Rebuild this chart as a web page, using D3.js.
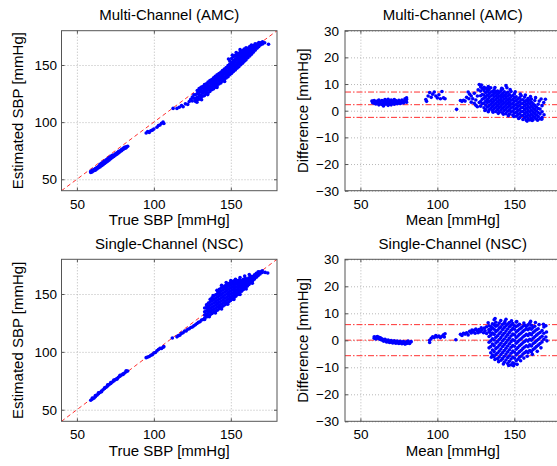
<!DOCTYPE html>
<html lang="en">
<head>
<meta charset="UTF-8">
<title>SBP estimation: AMC vs NSC</title>
<script src="https://d3js.org/d3.v7.min.js"></script>
<style>
  body { margin: 0; background: #fff; }
  text { font-family: Arial, "Liberation Sans", Helvetica, sans-serif; fill: #000; }
  .ticks line { stroke: #555; }
  .ticks .domain, .grid .domain { display: none; }
  .grid line { stroke: #b8b8b8; stroke-dasharray: 1,2; }
  .frame { fill: none; stroke: #555; }
  .dot { fill: #0000ff; }
</style>
</head>
<body>
<svg id="fig" width="557" height="466"></svg>
<script>
// ---- values ----
const xDomain = [40, 180];
const scatterDomain = [40, 180];
const diffDomain = [-30, 30];
const xTicks = [50, 100, 150];
const scatterTicks = [50, 100, 150];
const diffTicks = [-30, -20, -10, 0, 10, 20, 30];

const titles = ["Multi-Channel (AMC)", "Multi-Channel (AMC)", "Single-Channel (NSC)", "Single-Channel (NSC)"];

// Bland-Altman lines: [upper limit, mean, lower limit]
const amcLimits = [7.0, 2.25, -2.5];
const nscLimits = [5.8, 0.05, -5.7];

// columns: [true SBP, estimated SBP ...]
const amcScatter = [
  [59, 56, 57], [60, 56.5, 57.8], [61, 57.5, 58.5], [62, 58, 59.3], [63, 59, 60.2], [64, 60, 61.2],
  [65, 60.8, 62, 63], [66, 61.8, 63, 64], [67, 62.8, 64, 65], [68, 63.8, 65, 66], [69, 64.8, 66, 67],
  [70, 65.8, 67, 68], [71, 66.8, 68, 69], [72, 68, 69, 70], [73, 69, 70, 71], [74, 70, 71.2],
  [75, 71, 72.2], [76, 72, 73.2], [77, 73, 74.2], [78, 74, 75], [79, 75, 76], [80, 76, 77],
  [81, 77, 78], [82, 77.5, 78.5], [83, 78.8],
  [95, 90.5], [96, 91.8], [97, 91], [98, 92.5], [99, 93], [100, 94], [102, 95.5], [103, 97],
  [104, 97.5], [105, 99], [106, 100], [106.5, 98.8],
  [112.5, 112], [115, 112], [116.5, 113], [118, 114.5], [119, 113.5], [120.5, 116], [122, 115.5],
  [123, 118], [124, 120], [125, 118.5, 122], [126, 121, 124],
  [127, 118.2, 120.6, 123.9], [128.2, 119.5, 121.8, 125.1, 127.6], [129.4, 120.1, 122.9, 124.2, 126.8, 129.3],
  [130.6, 121.3, 123.7, 126.4, 128.2, 130.4], [131.7, 122.6, 125.4, 127.1, 129.8, 131.2],
  [132.9, 123.2, 126.1, 128.7, 130.3, 132.8], [134.1, 124.8, 127.3, 129.4, 131.9, 133.6],
  [135.2, 125.5, 128.6, 130.8, 132.7, 135.1], [136.4, 126.9, 129.2, 131.5, 134.2, 136.3],
  [137.6, 128.3, 130.7, 133.1, 135.4, 137.2], [138.8, 129.1, 131.9, 134.6, 136.3, 138.7],
  [139.9, 130.6, 133.2, 135.5, 137.9, 140.1], [141.1, 131.8, 134.1, 136.9, 139.2, 141.4],
  [142.3, 133.4, 135.7, 138.2, 140.1, 142.6], [143.5, 134.2, 137.1, 139.3, 141.8, 143.7],
  [144.6, 135.9, 138.4, 140.6, 142.9, 145.2], [145.8, 137.1, 139.2, 141.9, 144.3, 146.4],
  [147, 138.6, 140.9, 143.2, 145.6, 147.8], [148.2, 139.8, 142.3, 144.5, 147.1, 149.5],
  [149.3, 141.4, 143.6, 146.2, 148.4, 150.9, 153.5], [150.5, 142.7, 145.1, 147.4, 149.8, 152.2, 155.6],
  [151.7, 144.3, 146.5, 148.9, 151.3, 153.8, 157.2], [152.9, 145.6, 148.1, 150.2, 152.7, 155.1, 158.4],
  [154, 147.2, 149.4, 151.8, 154.3, 156.7, 159.1], [155.2, 148.5, 151.1, 153.3, 155.6, 158.2, 160.3],
  [156.4, 150.1, 152.4, 154.7, 157.2, 159.6, 161.8], [157.6, 151.6, 153.9, 156.3, 158.8, 160.9, 162.7],
  [158.7, 153.2, 155.5, 157.6, 160.1, 162.4, 163.9], [159.9, 154.5, 156.8, 159.2, 161.6, 163.3, 165.1],
  [161.1, 156.3, 158.4, 160.7, 162.9, 164.6], [162.3, 157.8, 159.9, 162.2, 164.5, 166.2],
  [163.4, 159.5, 161.7, 163.8, 165.6, 167.4], [164.6, 161.2, 163.4, 165.3, 167.1],
  [165.8, 162.9, 164.8, 166.9, 168.6], [167, 164.7, 166.5, 168.4], [168.2, 166.1, 168.2, 169.7],
  [169.4, 167.6, 169.5], [170.6, 168.4, 170.3], [172, 169.4], [174.5, 168.1],
  [128, 117.5], [131, 119.6], [135, 124.1], [141, 130.4], [146, 135.6],
  [148.5, 155.2], [151, 158.6], [153.5, 160.9], [156, 163.4]
];

// columns: [mean, difference ...]
const amcBland = [
  [57.5, 3.6], [58, 3.5, 3], [59, 3.8, 2.8], [60, 3.2, 2.5], [61, 3.6, 2.9], [62, 3.0, 2.2, 4.0],
  [63, 3.4, 2.6], [64, 3.8, 2.3], [65, 2.8, 3.5, 1.8], [66, 3.2, 2.4, 4.2], [67, 2.7, 3.7],
  [68, 3.1, 2.0, 4.3], [69, 2.5, 3.5], [70, 3.0, 2.2, 4.0], [71, 2.8, 3.6], [72, 3.2, 2.4, 4.2],
  [73, 2.9, 3.8], [74, 3.3, 2.6], [75, 3.0, 3.9], [76, 3.4, 2.7], [77, 3.1, 4.0], [78, 3.5, 2.9],
  [79, 3.8, 4.5], [80, 4.2, 3.2, 4.8],
  [92.5, 4.2], [93, 3.5], [94, 5.5], [95, 6.8], [96, 5], [97, 6.2], [98, 7], [99, 5.5],
  [100, 4.8], [101, 6], [102, 4.5], [103, 7.2], [104, 4.8], [105, 4.5],
  [112.5, 0.5], [115, 3.8], [116, 3.5], [117, 3.9], [118, 3.6], [119, 5], [120, 7], [120.5, 4.5],
  [121, 6.2], [122, 5.5, 3.2], [123, 4.5], [124, 2.8, 6.5], [125, 2, 4], [126, 1.5, 5.5],
  [127.2, 9.8, 3.1], [128.1, 1.7, 3.4, 5.6, 7.4, 8.9], [129.2, 2.6, 4.3, 6.1, 8.3],
  [130.3, 1.1, 2.9, 4.7, 5.9, 7.6, 8.8], [131.4, 0.4, 2.1, 3.6, 5.2, 6.8, 8.4],
  [132.5, 1.4, 3.1, 4.2, 5.8, 7.3, 8.1], [133.6, 0.3, 1.9, 3.4, 4.9, 6.4, 7.9],
  [134.7, 0.9, 2.4, 3.8, 5.5, 6.9, 8.6], [135.8, 0.1, 1.6, 3.1, 4.4, 5.9, 7.2],
  [136.9, 0.7, 2.2, 3.6, 5.1, 6.5, 7.8], [138, -0.3, 1.3, 2.7, 4.2, 5.6, 7.1],
  [139.1, 0.4, 1.9, 3.3, 4.8, 6.2, 7.4], [140.2, -0.6, 1.1, 2.5, 3.9, 5.4, 6.8],
  [141.3, 0.2, 1.7, 3.2, 4.6, 5.9, 7.6], [142.4, -0.8, 0.9, 2.4, 3.7, 5.2, 6.5, 8.1],
  [143.5, 0.1, 1.5, 2.9, 4.4, 5.7, 7.1], [144.6, -1.1, 0.6, 2.1, 3.5, 4.9, 6.3, 9.4],
  [145.7, -0.2, 1.3, 2.7, 4.1, 5.5, 6.9], [146.8, -1.3, 0.3, 1.8, 3.2, 4.6, 6.1],
  [147.9, -0.5, 1.0, 2.4, 3.9, 5.3, 7.2], [149, -1.6, -0.1, 1.4, 2.8, 4.2, 5.7],
  [150.1, -0.9, 0.6, 2.0, 3.5, 4.9, 6.4], [151.2, -2.1, -0.6, 0.9, 2.3, 3.8, 5.2],
  [152.3, -1.4, 0.1, 1.6, 3.0, 4.4], [153.4, -2.6, -1.1, 0.4, 1.9, 3.3, 4.8],
  [154.5, -1.9, -0.4, 1.1, 2.6, 4.0, 5.6], [155.6, -3.3, -1.8, -0.3, 1.2, 2.7, 4.1],
  [156.7, -2.6, -1.1, 0.4, 1.9, 3.4, 5.1], [157.8, -3.6, -2.1, -0.6, 0.9, 2.4, 3.8],
  [158.9, -2.9, -1.4, 0.1, 1.6, 3.1, 4.6], [160, -3.5, -2.0, -0.5, 1.0, 2.5, 3.9],
  [161.1, -2.8, -1.3, 0.2, 1.7, 3.2, 4.4], [162.2, -3.4, -1.9, -0.4, 1.1, 2.6],
  [163.3, -2.5, -1.0, 0.5, 2.0, 3.8], [164.4, -3.1, -1.6, -0.1, 1.4], [165.5, -2.2, -0.7, 0.8, 2.4],
  [166.7, -3.0, -1.2, 0.6], [168, -2.6, -0.4, 1.9], [169.3, -1.5], [170.2, 4.3],
  [126.5, 7.8], [128.6, 9.6], [133.1, 9.1], [137.4, 8.7], [141.8, 8.4], [145.2, 8.6], [147.3, 7.9],
  [150.6, 7.1], [153.9, 6.2], [157.2, 5.9], [160.5, 5.3], [163.8, 4.9], [166.2, 3.6], [167.4, 4.4],
  [169.1, 3.1], [158.3, -3.9], [161.6, -3.7], [165.1, -3.6], [167.8, -3.2], [152.8, -2.9],
  [149.6, -2.2], [146.1, -1.9], [142.9, -1.3], [139.6, -1.0], [136.2, -0.6], [133.1, -0.4], [130.9, 0.1]
];

const nscScatter = [
  [59, 58.2], [60, 59.2, 60.2], [61, 60], [62, 61.3, 62.2], [63, 62.6], [64, 63.8, 64.6], [65, 64.9],
  [66, 66.2, 65.5], [67, 67.3], [68, 68.4, 69], [69, 69.5], [70, 70.6, 71.5], [71, 71.8],
  [72, 72.7, 73.5], [73, 73.9], [74, 74.8, 75.6], [75, 76], [76, 77, 76.3], [77, 78.1],
  [78, 78.9, 79.8], [79, 80], [80, 81.1, 80.5], [81, 81.8], [82, 82.9, 83.6], [83, 83.5],
  [95, 95], [96, 95.5], [97, 96], [98, 97], [99, 97.5], [100, 99], [101, 99.5], [102, 101],
  [103, 102], [104, 103], [105, 103], [106, 104], [106.5, 104.5],
  [112, 112], [115, 113], [116, 114], [117, 114.5], [118, 116], [119, 116.5], [120, 118],
  [121, 118], [122, 119.5], [123, 120], [124, 121], [125, 121.5], [126, 122.5], [127, 123.5],
  [128, 124.5], [129, 125.5], [130, 126], [131, 127.5], [132, 128], [133, 128], [134, 131], [135, 131],
  [133, 129.3, 131.8, 134.6, 137.9], [134.2, 130.1, 132.7, 135.4, 138.2, 140.6],
  [135.4, 131.2, 133.9, 136.5, 139.3, 142.1], [136.6, 132.0, 134.8, 137.6, 140.4, 143.2, 145.5],
  [137.8, 133.1, 135.9, 138.5, 141.3, 144.2, 146.8], [139, 134.2, 136.8, 139.7, 142.5, 145.3, 148.1],
  [140.2, 135.3, 137.9, 140.6, 143.4, 146.4, 149.4], [141.4, 136.1, 138.9, 141.8, 144.6, 147.5, 150.5, 152.6],
  [142.6, 137.4, 140.1, 142.9, 145.7, 148.6, 151.4, 154.1], [143.8, 138.5, 141.2, 144.0, 146.8, 149.7, 152.5, 155.3],
  [145, 139.7, 142.4, 145.1, 147.9, 150.8, 153.6, 156.2], [146.2, 140.8, 143.5, 146.3, 149.1, 151.9, 154.7, 157.1],
  [147.4, 141.9, 144.7, 147.4, 150.2, 153.0, 155.6, 158.2], [148.6, 143.1, 145.8, 148.6, 151.3, 154.1, 156.8, 159.0],
  [149.8, 144.3, 147.0, 149.8, 152.5, 155.2, 157.7, 159.9], [151, 145.6, 148.2, 150.9, 153.6, 156.3, 158.6, 160.7],
  [152.2, 146.9, 149.5, 152.1, 154.8, 157.4, 159.6, 161.4], [153.4, 148.2, 150.8, 153.3, 155.9, 158.5, 160.5],
  [154.6, 149.6, 152.1, 154.6, 157.1, 159.5, 161.6], [155.8, 151.0, 153.4, 155.8, 158.2, 160.6, 162.4],
  [157, 152.4, 154.8, 157.1, 159.4, 161.6], [158.2, 153.9, 156.1, 158.4, 160.6, 162.7],
  [159.4, 155.3, 157.5, 159.7, 161.8, 163.5], [160.6, 156.8, 158.9, 161.0, 163.0],
  [161.8, 158.2, 160.3, 162.3, 164.1], [163, 159.8, 161.8, 163.7, 165.3], [164.2, 161.4, 163.3, 165.1],
  [165.4, 162.9, 164.8, 166.6], [166.6, 164.5, 166.3, 167.9], [167.8, 166.1, 167.8, 169.3],
  [169, 167.4, 169.2], [170.4, 168.6, 170.1], [172.3, 168.7], [174, 168.2],
  [138.5, 148.6], [141, 153.2], [144, 157.6], [147, 159.9], [150, 161.7], [153, 162.7], [156, 164.2],
  [159, 165.6], [162, 166.8], [136, 130.4], [140, 133.6], [144, 137.1], [148, 141.2], [152, 145.3],
  [156, 149.6], [160, 154.3], [164, 159.4]
];

const nscBland = [
  [59, 0.8, 1.3], [60, 0.5, 1.1], [61, 0.9, 1.4], [62, 0.6, 1.1], [63, 0.3, 0.9], [64, 0.6, 0.1],
  [65, 0.2, -0.3], [66, 0.4, -0.2], [67, -0.1, -0.6], [68, 0.1, -0.5], [69, -0.3, -0.8], [70, -0.1, -0.6],
  [71, -0.5, -1], [72, -0.2, -0.8], [73, -0.6, -1.1], [74, -0.3, -0.9], [75, -0.7, -1.2], [76, -0.4, -1],
  [77, -0.8, -1.3], [78, -0.5, -1.1], [79, -0.9, -1.4], [80, -0.6, -1.2], [81, -1, -0.3], [82, -0.7, -1.2],
  [83, -0.5],
  [95, 0, -0.8], [96, 0.7], [97, 1.3], [98, 1], [99, 1.8], [100, 1.2], [101, 1.6], [102, 1], [103, 1.5],
  [104, 2], [104.5, 1.2], [105, 2.4], [112, 0.2],
  [115, 2.2], [116, 1.8], [117, 2.6], [118, 2.3], [119, 2.8], [120, 2], [121, 3.3], [122, 2.7],
  [122.5, 3.8], [123, 3.2], [124, 3.7], [124.5, 2.6], [125, 4.2], [126, 3.5], [126.5, 2.8], [127, 4],
  [128, 3.2], [128.5, 4.6], [129, 3.8], [130, 2.8], [130.5, 4.5], [131, 3.5], [132, 5, 2.5],
  [133, 6.5], [133.5, 4], [134, 3],
  [133.6, -2.8, -0.7, 1.4, 3.3, 5.4], [134.7, -4.6, -2.3, -0.2, 1.9, 3.9, 5.1],
  [135.8, -5.5, -3.6, -1.4, 0.6, 2.7, 4.6, 6.1], [136.9, -6.1, -4.2, -2.0, 0.1, 2.2, 4.1, 5.8, 7.6],
  [138, -5.3, -3.1, -1.0, 1.1, 3.2, 5.2, 6.7], [139.1, -6.8, -4.7, -2.6, -0.4, 1.7, 3.7, 5.6],
  [140.2, -6.2, -4.0, -1.8, 0.3, 2.4, 4.5, 6.4], [141.3, -7.4, -5.3, -3.2, -1.1, 1.0, 3.1, 5.0],
  [142.4, -6.7, -4.5, -2.3, -0.2, 1.9, 4.0, 5.9], [143.5, -8.1, -5.9, -3.8, -1.6, 0.5, 2.6, 4.7, 6.3],
  [144.6, -7.3, -5.1, -2.9, -0.8, 1.3, 3.4, 5.4, 7.8], [145.7, -8.6, -6.4, -4.3, -2.1, 0.0, 2.1, 4.2, 6.0],
  [146.8, -7.8, -5.7, -3.5, -1.3, 0.8, 2.9, 5.0, 6.6], [147.9, -9.1, -6.9, -4.8, -2.6, -0.5, 1.6, 3.7, 5.6],
  [149, -8.3, -6.2, -4.0, -1.9, 0.2, 2.3, 4.4, 6.2], [150.1, -8.7, -6.6, -4.4, -2.2, -0.1, 2.0, 4.1, 5.4],
  [151.2, -7.6, -5.4, -3.3, -1.1, 1.0, 3.1, 5.1, 6.8], [152.3, -7.0, -4.8, -2.7, -0.5, 1.6, 3.6, 5.5],
  [153.4, -6.3, -4.2, -2.0, 0.1, 2.2, 4.2, 5.9], [154.5, -5.8, -3.7, -1.5, 0.6, 2.7, 4.6],
  [155.6, -5.1, -3.0, -0.9, 1.2, 3.3, 5.2], [156.7, -4.6, -2.5, -0.4, 1.7, 3.8, 5.6],
  [157.8, -4.1, -2.0, 0.1, 2.2, 4.2, 5.1], [158.9, -4.6, -2.4, -0.3, 1.8, 3.9, 5.7],
  [160, -3.8, -1.7, 0.4, 2.5, 4.5, 6.4], [161.1, -4.2, -2.1, 0.0, 2.1, 4.1, 5.6],
  [162.2, -3.4, -1.3, 0.8, 2.9, 4.8], [163.3, -2.9, -0.8, 1.3, 3.4, 5.2], [164.4, -2.3, -0.2, 1.9, 3.9],
  [165.5, -1.8, 0.3, 2.4, 4.3], [166.7, -1.2, 0.9, 2.9], [168, -0.6, 1.5, 3.6], [169.2, 0.4, 2.6, 4.9],
  [170.5, 1.2, 5.4],
  [135.1, -6.3], [137.4, -7.1], [139.8, -7.9], [142.9, -8.8], [146.3, -9.3], [149.5, -9.4], [151.8, -8.9],
  [154.1, -7.6], [156.2, -6.6], [158.4, -5.9], [161.7, -5.2], [164.9, -4.1], [167.3, -2.8],
  [137.5, 8.1], [141.2, 7.3], [143.9, 6.9], [148.2, 7.2], [151.6, 6.9], [156.2, 6.4], [160.6, 7.0],
  [163.7, 6.6], [166.1, 5.8], [168.9, 5.9], [170.9, 3.1], [171.2, -0.2]
];

// ---- layout ----
const cols = [{ left: 61.5, right: 277 }, { left: 345, right: 560.5 }];
const rows = [{ top: 30.7, bottom: 190.7 }, { top: 259.3, bottom: 421.3 }];

const svg = d3.select("#fig");
svg.append("rect").attr("width", 557).attr("height", 466).attr("fill", "#fff");

const flatten = data => data.flatMap(([x, ...ys]) => ys.map(y => [x, y]));

const panels = [
  { row: 0, col: 0, kind: "scatter", data: amcScatter, ylabel: "Estimated SBP [mmHg]", xlabel: "True SBP [mmHg]" },
  { row: 0, col: 1, kind: "bland", data: amcBland, limits: amcLimits, ylabel: "Difference [mmHg]", xlabel: "Mean [mmHg]" },
  { row: 1, col: 0, kind: "scatter", data: nscScatter, ylabel: "Estimated SBP [mmHg]", xlabel: "True SBP [mmHg]" },
  { row: 1, col: 1, kind: "bland", data: nscBland, limits: nscLimits, ylabel: "Difference [mmHg]", xlabel: "Mean [mmHg]" }
];

panels.forEach((p, i) => {
  const c = cols[p.col], r = rows[p.row];
  const w = c.right - c.left, h = r.bottom - r.top;
  const isScatter = p.kind === "scatter";

  const x = d3.scaleLinear().domain(xDomain).range([0, w]);
  const y = d3.scaleLinear().domain(isScatter ? scatterDomain : diffDomain).range([h, 0]);
  const yTicks = isScatter ? scatterTicks : diffTicks;

  const g = svg.append("g").attr("transform", `translate(${c.left},${r.top})`);

  g.append("clipPath").attr("id", "clip" + i)
    .append("rect").attr("width", w).attr("height", h);

  // grid
  g.append("g").attr("class", "grid").attr("transform", `translate(0,${h})`)
    .call(d3.axisBottom(x).tickValues(xTicks).tickSize(-h).tickFormat(""));
  g.append("g").attr("class", "grid")
    .call(d3.axisLeft(y).tickValues(yTicks).tickSize(-w).tickFormat(""));

  const plot = g.append("g").attr("clip-path", `url(#clip${i})`);

  if (isScatter) {
    plot.append("line")
      .attr("x1", x(xDomain[0])).attr("y1", y(xDomain[0]))
      .attr("x2", x(xDomain[1])).attr("y2", y(xDomain[1]))
      .attr("stroke", "#ff3030").attr("stroke-width", 1).attr("stroke-dasharray", "4,3");
  } else {
    plot.selectAll(".limit").data(p.limits).enter().append("line")
      .attr("class", "limit")
      .attr("x1", x(xDomain[0])).attr("x2", x(xDomain[1]))
      .attr("y1", d => y(d)).attr("y2", d => y(d))
      .attr("stroke", "#ff3030").attr("stroke-width", 1).attr("stroke-dasharray", "6,2,1.5,2");
  }

  plot.selectAll(".dot").data(flatten(p.data)).enter().append("circle")
    .attr("class", "dot")
    .attr("cx", d => x(d[0])).attr("cy", d => y(d[1])).attr("r", 1.8);

  // ticks, inward, on all four sides
  const pad = isScatter ? 4.5 : 6;
  g.append("g").attr("class", "ticks").attr("transform", `translate(0,${h})`)
    .call(d3.axisBottom(x).tickValues(xTicks).tickSize(-3).tickPadding(8.5).tickSizeOuter(0));
  g.append("g").attr("class", "ticks")
    .call(d3.axisTop(x).tickValues(xTicks).tickSize(-3).tickFormat("").tickSizeOuter(0));
  g.append("g").attr("class", "ticks")
    .call(d3.axisLeft(y).tickValues(yTicks).tickSize(-3).tickPadding(pad).tickSizeOuter(0));
  g.append("g").attr("class", "ticks").attr("transform", `translate(${w},0)`)
    .call(d3.axisRight(y).tickValues(yTicks).tickSize(-3).tickFormat("").tickSizeOuter(0));
  g.selectAll(".ticks text").attr("fill", "#000").style("font-size", "13.5px")
    .style("font-family", "Arial, 'Liberation Sans', Helvetica, sans-serif");

  g.append("rect").attr("class", "frame").attr("width", w).attr("height", h);

  // labels
  g.append("text").attr("x", w / 2).attr("y", -10.7).attr("text-anchor", "middle")
    .style("font-size", "15px").text(titles[i]);
  g.append("text").attr("x", w / 2).attr("y", h + 34.5).attr("text-anchor", "middle")
    .style("font-size", "15px").text(p.xlabel);
  g.append("text").attr("transform", `translate(${isScatter ? -39 : -36.6},${h / 2}) rotate(-90)`)
    .attr("text-anchor", "middle").style("font-size", "15px").text(p.ylabel);
});
</script>
</body>
</html>
